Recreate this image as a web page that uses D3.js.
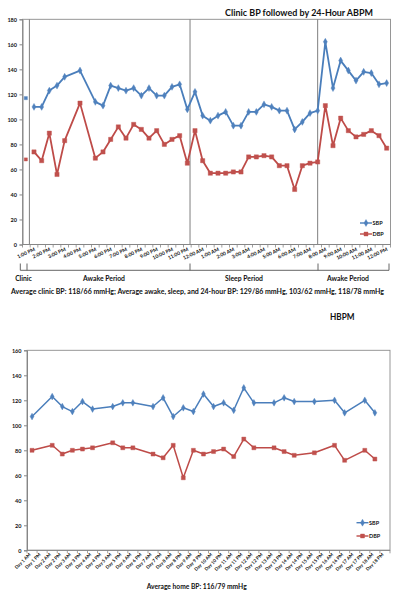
<!DOCTYPE html>
<html><head><meta charset="utf-8">
<script src="https://cdn.jsdelivr.net/npm/d3@7"></script>
<style>
body{margin:0;background:#fff}
svg{display:block}
text{font-family:Lato,"Open Sans","DejaVu Sans",sans-serif;fill:#111}
</style>
</head><body>
<svg id="c" width="401" height="599"></svg>
<script>
// ---------- DATA ----------
const abpmTimes = ["12:30 PM","1:00 PM","1:30 PM","2:00 PM","2:30 PM","3:00 PM","3:30 PM","4:00 PM","4:30 PM","5:00 PM","5:30 PM","6:00 PM","6:30 PM","7:00 PM","7:30 PM","8:00 PM","8:30 PM","9:00 PM","9:30 PM","10:00 PM","10:30 PM","11:00 PM","11:30 PM","12:00 AM","12:30 AM","1:00 AM","1:30 AM","2:00 AM","2:30 AM","3:00 AM","3:30 AM","4:00 AM","4:30 AM","5:00 AM","5:30 AM","6:00 AM","6:30 AM","7:00 AM","7:30 AM","8:00 AM","8:30 AM","9:00 AM","9:30 AM","10:00 AM","10:30 AM","11:00 AM","11:30 AM","12:00 PM"];
const clinicTime = "12:30 PM";
const clinicSBP = 117;
const clinicDBP = 68;
const abpmSBP = [null,110,110,123,127,134,null,139,null,114,111,127,125,123,125,119,125,119,119,126,128,108,122,103,99,103,106,95,95,106,106,112,110,107,107,92,98,105,107,162,125,147,139,131,138,137,128,129];
const abpmDBP = [null,74,67,89,56,83,null,113,null,69,74,84,94,85,96,92,85,91,80,84,87,65,91,67,57,57,57,58,58,70,70,71,70,63,63,44,63,65,66,111,79,101,91,86,88,91,87,77];
const abpmTicks = [0,20,40,60,80,100,120,140,160,180];
const periodLabels = ["Clinic","Awake Period","Sleep Period","Awake Period"];

const hbpmDays = ["Day 1 AM","Day 1 PM","Day 2 AM","Day 2 PM","Day 3 AM","Day 3 PM","Day 4 AM","Day 4 PM","Day 5 AM","Day 5 PM","Day 6 AM","Day 6 PM","Day 7 AM","Day 7 PM","Day 8 AM","Day 8 PM","Day 9 AM","Day 9 PM","Day 10 AM","Day 10 PM","Day 11 AM","Day 11 PM","Day 12 AM","Day 12 PM","Day 13 AM","Day 13 PM","Day 14 AM","Day 14 PM","Day 15 AM","Day 15 PM","Day 16 AM","Day 16 PM","Day 17 AM","Day 17 PM","Day 18 AM","Day 18 PM"];
const hbpmSBP = [107,null,123,115,111,119,113,null,115,118,118,null,115,122,107,114,111,125,115,118,112,130,118,null,118,122,119,null,119,null,120,110,null,120,110,null];
const hbpmDBP = [80,null,84,77,80,81,82,null,86,82,82,null,77,74,84,58,80,77,79,81,75,89,82,null,82,79,76,null,78,null,84,72,null,80,73,null];
const hbpmTicks = [0,20,40,60,80,100,120,140,160];

const seriesNames = ["SBP","DBP"];
const topTitle = "Clinic BP followed by 24-Hour ABPM";
const topCaption = "Average clinic BP: 118/66 mmHg; Average awake, sleep, and 24-hour BP: 129/86 mmHg, 103/62 mmHg, 118/78 mmHg";
const bottomTitle = "HBPM";
const bottomCaption = "Average home BP: 116/79 mmHg";

// ---------- STYLE ----------
const C = {sbpLine:"#4A7EBB", sbpMark:"#4F81BD", dbpLine:"#BE4B48", dbpMark:"#C0504D", axis:"#868686", frame:"#8c8c8c"};
const svg = d3.select("#c");
svg.append("rect").attr("width",401).attr("height",599).attr("fill","#fff");

function marker(g, type, x, y, fill, size){
  g.append("path").attr("d", d3.symbol().type(type).size(size)())
    .attr("transform",`translate(${x},${y})`).attr("fill",fill).attr("stroke",fill).attr("stroke-width",0.4);
}

function drawSeries(g, x, y, cats, vals, lineColor, markColor, type, size, lw){
  const pts = cats.map((c,i)=>({c, v:vals[i]})).filter(d=>d.v!=null);
  const bw = x.bandwidth();
  g.append("path").datum(pts)
    .attr("d", d3.line().x(d=>x(d.c)+bw/2).y(d=>y(d.v)))
    .attr("fill","none").attr("stroke",lineColor).attr("stroke-width",lw).attr("stroke-linejoin","round");
  pts.forEach(d=>marker(g, type, x(d.c)+bw/2, y(d.v), markColor, size));
}

function yAxis(g, y, ticks, x0){
  const ax = g.append("g").attr("transform",`translate(${x0},0)`)
    .call(d3.axisLeft(y).tickValues(ticks).tickSize(3).tickPadding(2.5).tickFormat(d3.format("d")));
  ax.select(".domain").attr("stroke",C.axis);
  ax.selectAll(".tick line").attr("stroke",C.axis);
  ax.selectAll("text").attr("font-size",5.5).attr("font-weight",700).attr("font-family","Lato,sans-serif").attr("fill","#222");
}

function xTicks(g, x, cats, y0){
  const bounds = cats.map(c=>x(c)).concat([x.range()[1]]);
  g.append("g").selectAll("line").data(bounds).join("line")
    .attr("x1",d=>d).attr("x2",d=>d).attr("y1",y0).attr("y2",y0+3)
    .attr("stroke",C.axis).attr("stroke-width",0.8);
  g.append("line").attr("x1",x.range()[0]).attr("x2",x.range()[1]).attr("y1",y0).attr("y2",y0)
    .attr("stroke",C.axis).attr("stroke-width",1);
}

function legend(g, x0, y0, gap){
  const items = [{n:seriesNames[0], lc:C.sbpLine, mc:C.sbpMark, t:d3.symbolDiamond, s:14},
                 {n:seriesNames[1], lc:C.dbpLine, mc:C.dbpMark, t:d3.symbolSquare, s:16}];
  items.forEach((it,i)=>{
    const yy = y0 + i*gap;
    g.append("line").attr("x1",x0).attr("x2",x0+12).attr("y1",yy).attr("y2",yy).attr("stroke",it.lc).attr("stroke-width",1.4);
    marker(g, it.t, x0+6, yy, it.mc, it.s);
    g.append("text").attr("x",x0+12.5).attr("y",yy+2).attr("font-size",5.5).attr("font-weight",700).text(it.n);
  });
}

// ---------- TOP CHART (ABPM) ----------
const topG = svg.append("g");
const xT = d3.scaleBand().domain(abpmTimes).range([22.5, 390.5]);
const yT = d3.scaleLinear().domain([0,180]).range([244.5, 19.3]);
const bwT = xT.bandwidth();

topG.append("rect").attr("x",22.5).attr("y",yT(180)).attr("width",368).attr("height",yT(0)-yT(180))
  .attr("fill","none").attr("stroke",C.frame).attr("stroke-width",0.9);

// period dividers
const dividerPos = [xT("1:00 PM")-0.1*bwT, xT("11:30 PM")-0.15*bwT, xT("7:30 AM")+0.5*bwT];
dividerPos.forEach(px=>{
  topG.append("line").attr("x1",px).attr("x2",px).attr("y1",yT(180)).attr("y2",yT(0))
    .attr("stroke","#7f7f7f").attr("stroke-width",1);
});

yAxis(topG, yT, abpmTicks, 22.5);
xTicks(topG, xT, abpmTimes, yT(0));

abpmTimes.forEach(t=>{
  if(/:00 (AM|PM)$/.test(t)){
    const cx = xT(t)+bwT/2+1.5;
    topG.append("text").attr("transform",`translate(${cx},${250.5}) rotate(-25)`)
      .attr("text-anchor","end").attr("font-size",5).attr("font-weight",700).attr("fill","#333").text(t);
  }
});

drawSeries(topG, xT, yT, abpmTimes, abpmSBP, C.sbpLine, C.sbpMark, d3.symbolDiamond, 14, 1.8);
drawSeries(topG, xT, yT, abpmTimes, abpmDBP, C.dbpLine, C.dbpMark, d3.symbolSquare, 18, 1.8);
// clinic readings (unconnected)
marker(topG, d3.symbolSquare, xT(clinicTime)+bwT/2-0.5, yT(clinicSBP), C.sbpMark, 10);
marker(topG, d3.symbolSquare, xT(clinicTime)+bwT/2-0.5, yT(clinicDBP), C.dbpMark, 10);

legend(topG, 360, 223, 11);

topG.append("text").attr("x",225).attr("y",15.5).attr("font-size",8.5).attr("font-weight",700)
  .attr("textLength",148).attr("lengthAdjust","spacingAndGlyphs").text(topTitle);

// period brackets
const brY = 270.3, brTop = 263.5;
const brX = [20.3, 27, 190, 318, 389];
topG.append("line").attr("x1",brX[0]).attr("x2",brX[4]).attr("y1",brY).attr("y2",brY).attr("stroke","#555").attr("stroke-width",0.9);
brX.forEach(px=>topG.append("line").attr("x1",px).attr("x2",px).attr("y1",brTop).attr("y2",brY).attr("stroke","#555").attr("stroke-width",0.9));
const periodCenters = [23.5, 104, 244, 348];
periodLabels.forEach((p,i)=>{
  topG.append("text").attr("x",periodCenters[i]).attr("y",281).attr("text-anchor","middle")
    .attr("font-size",6.8).attr("font-weight",700).text(p);
});
topG.append("text").attr("x",11).attr("y",294).attr("font-size",6.6).attr("font-weight",700)
  .attr("textLength",373).attr("lengthAdjust","spacingAndGlyphs").text(topCaption);

// ---------- BOTTOM CHART (HBPM) ----------
const botG = svg.append("g");
const xB = d3.scaleBand().domain(hbpmDays).range([27, 390]);
const yB = d3.scaleLinear().domain([0,160]).range([550.3, 350.3]);
const bwB = xB.bandwidth();

botG.append("rect").attr("x",27).attr("y",yB(160)).attr("width",363).attr("height",yB(0)-yB(160))
  .attr("fill","none").attr("stroke",C.frame).attr("stroke-width",0.9);
yAxis(botG, yB, hbpmTicks, 27);
xTicks(botG, xB, hbpmDays, yB(0));
hbpmDays.forEach(d=>{
  const cx = xB(d)+bwB/2-1;
  botG.append("text").attr("transform",`translate(${cx},${555}) rotate(-45)`)
    .attr("text-anchor","end").attr("font-size",4.6).attr("font-weight",700).attr("fill","#333").text(d);
});
drawSeries(botG, xB, yB, hbpmDays, hbpmSBP, C.sbpLine, C.sbpMark, d3.symbolDiamond, 13, 1.5);
drawSeries(botG, xB, yB, hbpmDays, hbpmDBP, C.dbpLine, C.dbpMark, d3.symbolSquare, 16, 1.5);
legend(botG, 356.5, 522.7, 13.3);

botG.append("text").attr("x",330).attr("y",319.5).attr("font-size",8.5).attr("font-weight",700)
  .attr("textLength",24.5).attr("lengthAdjust","spacingAndGlyphs").text(bottomTitle);
botG.append("text").attr("x",146.7).attr("y",588.5).attr("font-size",6.8).attr("font-weight",700)
  .attr("textLength",100).attr("lengthAdjust","spacingAndGlyphs").text(bottomCaption);
</script>
</body></html>
